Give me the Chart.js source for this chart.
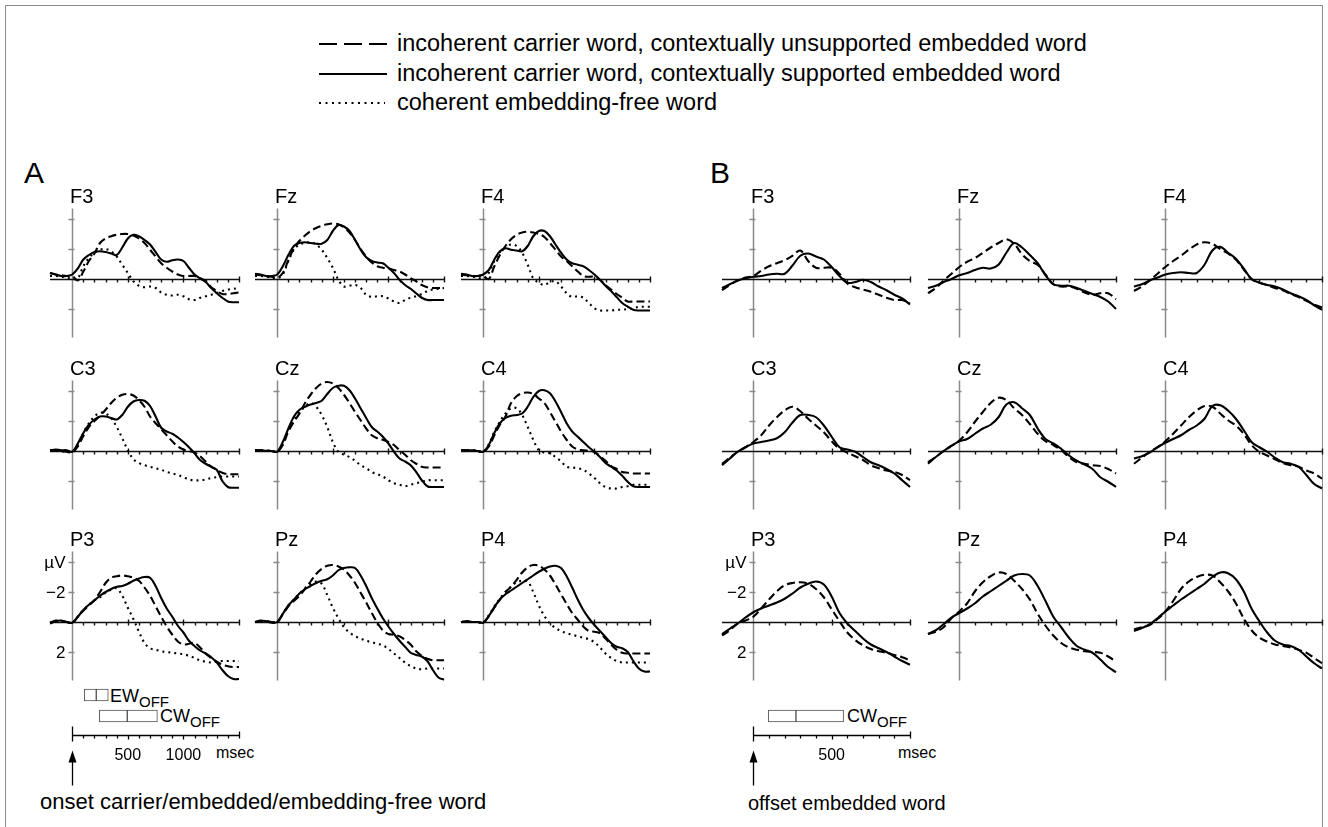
<!DOCTYPE html>
<html>
<head>
<meta charset="utf-8">
<script src="https://cdn.jsdelivr.net/npm/chart.js@4.4.1/dist/chart.umd.min.js"></script>
<style>
body { margin: 0; background: #fff; width: 1328px; height: 827px; overflow: hidden; position: relative;
  font-family: "Liberation Sans", Arial, sans-serif; color: #000; }
.frame { position: absolute; left: 5px; top: 5px; width: 1316px; height: 840px; border: 1px solid #8c8c8c; }
.t { position: absolute; white-space: nowrap; line-height: 1; }
.t sub { font-size: 15px; vertical-align: -5px; line-height: 0; }
canvas { position: absolute; }
</style>
</head>
<body>
<div class="frame"></div>

<svg style="position:absolute;left:0;top:0" width="420" height="120">
  <line x1="319" y1="44" x2="387" y2="44" stroke="#000" stroke-width="2" stroke-dasharray="18 7"/>
  <line x1="319" y1="74" x2="387" y2="74" stroke="#000" stroke-width="2"/>
  <line x1="319" y1="103" x2="385" y2="103" stroke="#000" stroke-width="2" stroke-dasharray="2 4.5"/>
</svg>
<div class="t" style="left:397px;top:32px;font-size:23.5px">incoherent carrier word, contextually unsupported embedded word</div>
<div class="t" style="left:397px;top:62px;font-size:23.5px">incoherent carrier word, contextually supported embedded word</div>
<div class="t" style="left:397px;top:91px;font-size:23.5px">coherent embedding-free word</div>

<div class="t" style="left:24px;top:158px;font-size:30px">A</div>
<div class="t" style="left:710px;top:158px;font-size:30px">B</div>

<div class="t" style="left:110px;top:687px;font-size:18px">EW<sub>OFF</sub></div>
<div class="t" style="left:160px;top:707px;font-size:18px">CW<sub>OFF</sub></div>
<div class="t" style="left:847px;top:707px;font-size:18px">CW<sub>OFF</sub></div>
<div class="t" style="left:216px;top:745px;font-size:16px">msec</div>
<div class="t" style="left:898px;top:745px;font-size:16px">msec</div>
<div class="t" style="left:40px;top:791px;font-size:22px">onset carrier/embedded/embedding-free word</div>
<div class="t" style="left:748px;top:793px;font-size:20px">offset embedded word</div>

<script>
// time points (ms)
const timesA = [-200,-150,-100,-50,0,50,100,150,200,250,300,350,400,450,500,550,600,650,700,750,800,850,900,950,1000,1050,1100,1150,1200,1250,1300,1350,1400,1450,1500];
const timesB = [-200,-150,-100,-50,0,50,100,150,200,250,300,350,400,450,500,550,600,650,700,750,800,850,900,950,1000];

const electrodes = [['F3', 'Fz', 'F4'], ['C3', 'Cz', 'C4'], ['P3', 'Pz', 'P4']];

// panel A: onset locked (µV, negative up)
const a_F3_sup   = [-0.4,-0.3,-0.2,-0.2,-0.3,-0.7,-1.3,-1.6,-1.8,-1.85,-1.8,-1.7,-1.6,-2.1,-2.7,-2.95,-2.85,-2.6,-2.3,-1.8,-1.3,-1.15,-1.25,-1.3,-1.2,-0.75,-0.3,-0.05,0.2,0.6,0.95,1.25,1.5,1.55,1.55];
const a_F3_unsup = [-0.4,-0.3,-0.25,-0.2,-0.2,0.1,-0.5,-1.2,-1.7,-2.4,-2.7,-2.85,-2.95,-3.0,-3.0,-2.9,-2.7,-2.4,-1.95,-1.5,-1.05,-0.75,-0.5,-0.3,-0.2,-0.2,-0.2,-0.05,0.15,0.55,0.8,1.0,1.0,0.95,0.9];
const a_F3_free  = [-0.2,-0.2,-0.15,-0.1,0,-0.05,-0.85,-1.4,-1.75,-1.95,-2.0,-1.85,-1.5,-0.95,-0.4,0.15,0.45,0.55,0.5,0.6,0.9,1.05,1.1,1.05,1.15,1.35,1.4,1.25,1.15,1.05,0.95,0.8,0.7,0.65,0.6];

const a_Fz_sup   = [-0.35,-0.3,-0.2,-0.2,-0.3,-0.85,-1.6,-2.2,-2.4,-2.45,-2.4,-2.35,-2.35,-2.6,-3.2,-3.6,-3.5,-3.2,-2.6,-1.95,-1.45,-1.2,-1.1,-1.05,-0.75,-0.4,0.05,0.4,0.65,0.95,1.25,1.4,1.4,1.4,1.4];
const a_Fz_unsup = [-0.3,-0.25,-0.2,-0.15,-0.1,-0.4,-1.25,-2.05,-2.55,-2.9,-3.2,-3.4,-3.55,-3.65,-3.7,-3.65,-3.45,-3.1,-2.6,-2.0,-1.5,-1.1,-0.85,-0.75,-0.7,-0.6,-0.5,-0.3,-0.05,0.15,0.4,0.55,0.6,0.6,0.6];
const a_Fz_free  = [-0.2,-0.2,-0.15,-0.1,-0.05,-0.3,-1.2,-1.95,-2.3,-2.4,-2.45,-2.3,-1.95,-1.4,-0.75,0.05,0.5,0.45,0.4,0.6,1.05,1.2,1.15,1.15,1.3,1.5,1.6,1.4,1.25,1.15,1.0,0.8,0.7,0.65,0.6];

const a_F4_sup   = [-0.35,-0.3,-0.2,-0.2,-0.3,-0.6,-1.3,-1.85,-2.05,-1.95,-1.9,-1.85,-2.2,-2.85,-3.2,-3.2,-2.85,-2.3,-1.75,-1.3,-1.05,-0.95,-0.85,-0.6,-0.3,0.05,0.45,0.8,1.2,1.6,1.85,2.05,2.1,2.1,2.1];
const a_F4_unsup = [-0.3,-0.25,-0.2,-0.2,-0.2,0,-0.85,-1.6,-2.2,-2.65,-2.95,-3.1,-3.15,-3.1,-3.0,-2.8,-2.4,-1.95,-1.5,-1.2,-0.85,-0.5,-0.2,-0.15,-0.15,0.05,0.4,0.7,1.0,1.25,1.5,1.5,1.5,1.5,1.5];
const a_F4_free  = [-0.2,-0.2,-0.15,-0.1,0,-0.4,-1.2,-1.8,-2.1,-2.3,-2.2,-1.75,-0.95,-0.05,0.25,0.4,0.2,0.15,0.5,0.95,1.2,1.15,1.25,1.6,1.95,2.1,2.1,2.1,2.05,2.05,2.0,1.95,1.85,1.85,1.85];

const a_C3_sup   = [-0.05,-0.1,-0.05,-0.05,0.05,-0.5,-1.2,-1.75,-2.1,-2.3,-2.3,-2.2,-2.1,-2.4,-2.95,-3.3,-3.4,-3.35,-3.0,-2.3,-1.55,-1.3,-1.15,-0.9,-0.6,-0.25,0.15,0.6,0.85,1.05,1.25,2.0,2.4,2.45,2.45];
const a_C3_unsup = [-0.05,-0.05,0,0.05,0.1,-0.3,-1.0,-1.6,-2.0,-2.35,-2.75,-3.2,-3.55,-3.75,-3.8,-3.7,-3.4,-2.95,-2.3,-1.85,-1.45,-1.05,-0.65,-0.3,-0.1,0,0.1,0.35,0.7,1.05,1.25,1.45,1.55,1.55,1.55];
const a_C3_free  = [-0.05,-0.05,0,0.05,0.05,-0.4,-1.2,-1.85,-2.3,-2.55,-2.5,-2.2,-1.6,-0.85,-0.05,0.55,0.8,0.95,1.05,1.15,1.25,1.4,1.5,1.6,1.75,1.9,1.95,1.95,1.9,1.8,1.75,1.7,1.7,1.7,1.7];

const a_Cz_sup   = [-0.05,-0.05,-0.02,0,0.05,-0.6,-1.5,-2.3,-2.75,-2.95,-3.1,-3.2,-3.35,-3.8,-4.2,-4.35,-4.35,-4.05,-3.5,-2.85,-2.2,-1.6,-1.3,-0.95,-0.5,0.05,0.5,0.7,0.95,1.4,1.95,2.35,2.4,2.4,2.4];
const a_Cz_unsup = [-0.05,-0.05,-0.02,0,0.05,-0.4,-1.3,-1.95,-2.5,-3.2,-3.75,-4.2,-4.5,-4.6,-4.5,-4.2,-3.75,-3.2,-2.6,-2.05,-1.5,-1.05,-0.85,-0.75,-0.6,-0.4,-0.05,0.25,0.6,0.85,1.05,1.1,1.1,1.1,1.1];
const a_Cz_free  = [-0.05,-0.05,-0.02,0,0.05,-0.5,-1.4,-2.05,-2.6,-2.95,-3.2,-2.95,-2.4,-1.6,-0.6,0.05,0.25,0.4,0.65,0.95,1.15,1.4,1.55,1.7,1.95,2.15,2.25,2.35,2.25,2.15,2.05,1.95,1.95,1.95,1.95];

const a_C4_sup   = [-0.05,-0.05,-0.05,0,0.05,-0.4,-1.2,-1.85,-2.2,-2.35,-2.4,-2.5,-2.95,-3.6,-4.0,-4.05,-3.85,-3.3,-2.6,-1.85,-1.3,-0.95,-0.6,-0.25,0.05,0.4,0.8,1.05,1.3,1.65,2.05,2.35,2.4,2.4,2.4];
const a_C4_unsup = [-0.05,-0.05,-0.05,0,0.05,-0.3,-1.05,-1.75,-2.3,-3.2,-3.65,-3.85,-3.9,-3.8,-3.5,-3.2,-2.6,-1.95,-1.3,-0.75,-0.3,-0.1,-0.05,0,0.05,0.35,0.65,1.0,1.2,1.4,1.45,1.5,1.5,1.5,1.5];
const a_C4_free  = [-0.05,-0.05,-0.05,0,0.05,-0.45,-1.3,-1.95,-2.5,-2.85,-2.85,-2.4,-1.6,-0.75,-0.05,0.1,0.15,0.4,0.7,1.05,1.1,1.15,1.25,1.5,1.8,2.15,2.4,2.5,2.5,2.4,2.35,2.25,2.25,2.25,2.25];

const a_P3_sup   = [0.1,-0.05,-0.1,0,0.05,-0.35,-0.8,-1.15,-1.45,-1.75,-2.0,-2.2,-2.35,-2.4,-2.55,-2.75,-2.9,-3.0,-2.95,-2.4,-1.6,-0.9,-0.35,0.25,0.7,1.25,1.6,1.9,2.1,2.35,2.7,3.2,3.6,3.8,3.8];
const a_P3_unsup = [0.05,-0.1,-0.05,0,0.05,-0.35,-0.75,-1.1,-1.45,-2.0,-2.6,-2.95,-3.05,-3.1,-3.05,-2.95,-2.75,-2.3,-1.75,-1.05,-0.35,0.3,0.85,1.3,1.5,1.45,1.4,1.7,2.1,2.4,2.65,2.85,2.95,3.0,3.0];
const a_P3_free  = [0.05,-0.05,-0.05,0,0.05,-0.35,-0.8,-1.15,-1.45,-1.65,-1.95,-2.15,-2.25,-1.75,-0.95,-0.2,0.65,1.4,1.75,1.85,1.95,2.0,2.05,2.1,2.15,2.25,2.4,2.55,2.65,2.7,2.65,2.6,2.6,2.6,2.6];

const a_Pz_sup   = [0,-0.1,-0.05,0.05,0,-0.55,-1.1,-1.5,-1.9,-2.2,-2.4,-2.6,-2.75,-2.85,-3.1,-3.45,-3.6,-3.65,-3.6,-3.1,-2.4,-1.6,-0.9,-0.25,0.3,0.8,1.25,1.65,2.05,2.2,2.3,2.6,3.2,3.7,3.85];
const a_Pz_unsup = [0,-0.05,-0.05,0,0,-0.5,-1.05,-1.4,-1.75,-2.2,-2.7,-3.2,-3.55,-3.75,-3.8,-3.7,-3.5,-3.1,-2.6,-1.95,-1.3,-0.6,0.05,0.55,0.8,0.85,0.95,1.2,1.5,1.95,2.25,2.45,2.55,2.55,2.55];
const a_Pz_free  = [0,-0.05,-0.05,0,0,-0.55,-1.1,-1.5,-1.9,-2.25,-2.5,-2.7,-2.55,-1.8,-0.95,-0.25,0.35,0.7,0.95,1.1,1.25,1.35,1.45,1.55,1.8,2.1,2.4,2.7,2.95,3.1,3.15,3.1,3.1,3.1,3.1];

const a_P4_sup   = [0,-0.05,0,0,0.05,-0.4,-1.0,-1.5,-1.85,-2.1,-2.35,-2.6,-2.85,-3.1,-3.35,-3.55,-3.7,-3.75,-3.6,-3.05,-2.3,-1.5,-0.8,-0.25,0.2,0.6,1.0,1.4,1.65,1.75,2.0,2.6,3.1,3.3,3.3];
const a_P4_unsup = [0,-0.05,0,0,0.05,-0.4,-0.95,-1.5,-2.0,-2.35,-2.8,-3.3,-3.65,-3.8,-3.75,-3.5,-3.1,-2.5,-1.85,-1.2,-0.6,-0.15,0.3,0.6,0.65,0.75,1.1,1.5,1.85,2.05,2.1,2.1,2.1,2.1,2.1];
const a_P4_free  = [0,-0.05,0,0,0.05,-0.45,-1.05,-1.55,-2.0,-2.35,-2.65,-2.75,-2.7,-2.0,-1.1,-0.4,0.1,0.4,0.6,0.75,0.85,0.95,1.05,1.15,1.35,1.7,2.1,2.4,2.6,2.7,2.7,2.7,2.7,2.7,2.7];

// panel B: offset locked
const b_F3_sup   = [0.6,0.35,0.1,-0.05,-0.15,-0.2,-0.3,-0.35,-0.35,-0.9,-1.55,-1.7,-1.5,-1.3,-0.8,-0.2,0.25,0.2,0.05,0.2,0.5,0.75,1.05,1.3,1.7];
const b_F3_unsup = [0.75,0.4,0.1,-0.1,-0.2,-0.55,-0.85,-1.05,-1.25,-1.55,-1.9,-1.2,-0.75,-0.75,-0.75,-0.35,0.3,0.55,0.7,0.85,1.05,1.25,1.4,1.4,1.6];
const b_Fz_sup   = [0.6,0.45,0.2,0,-0.25,-0.4,-0.6,-0.75,-0.7,-0.95,-1.75,-2.4,-2.1,-1.6,-1.05,-0.25,0.35,0.45,0.45,0.6,0.8,1.0,1.2,1.5,2.0];
const b_Fz_unsup = [0.95,0.6,0.1,-0.35,-0.8,-1.15,-1.4,-1.75,-2.1,-2.4,-2.65,-2.35,-1.65,-1.2,-0.95,-0.3,0.35,0.5,0.5,0.65,0.9,1.05,0.95,0.95,1.35];
const b_F4_sup   = [0.5,0.35,0.1,-0.1,-0.3,-0.4,-0.45,-0.4,-0.4,-0.95,-1.9,-2.15,-1.75,-1.35,-0.7,0,0.25,0.4,0.5,0.7,0.95,1.15,1.4,1.75,2.05];
const b_F4_unsup = [0.8,0.5,0.1,-0.35,-0.8,-1.2,-1.55,-1.95,-2.3,-2.45,-2.35,-2.0,-1.7,-1.3,-0.65,0,0.25,0.4,0.6,0.75,1.0,1.2,1.45,1.7,1.9];
const b_C3_sup   = [0.95,0.5,0.05,-0.25,-0.5,-0.6,-0.7,-0.85,-1.25,-1.9,-2.4,-2.4,-2.25,-1.7,-0.95,-0.25,-0.1,0.05,0.4,0.75,0.95,1.2,1.5,1.95,2.4];
const b_C3_unsup = [0.85,0.45,0.05,-0.25,-0.6,-1.05,-1.7,-2.25,-2.7,-2.95,-2.65,-2.15,-1.7,-1.25,-0.65,-0.15,0.1,0.35,0.6,0.95,1.15,1.3,1.4,1.6,1.95];
const b_Cz_sup   = [0.85,0.4,0,-0.35,-0.65,-0.8,-1.15,-1.5,-1.75,-2.25,-3.1,-3.25,-2.85,-2.4,-1.5,-0.8,-0.5,-0.15,0.3,0.65,0.9,1.2,1.75,2.05,2.4];
const b_Cz_unsup = [0.75,0.4,0,-0.35,-0.7,-1.25,-1.95,-2.6,-3.2,-3.55,-3.4,-2.85,-2.4,-1.8,-1.15,-0.65,-0.4,-0.05,0.4,0.75,0.85,0.95,1.0,1.2,1.5];
const b_C4_sup   = [0.5,0.35,0.1,-0.25,-0.55,-0.8,-1.05,-1.4,-1.7,-2.15,-3.0,-3.05,-2.7,-2.15,-1.4,-0.6,-0.25,0.05,0.45,0.75,0.85,1.05,1.6,2.2,2.5];
const b_C4_unsup = [0.85,0.45,0.05,-0.25,-0.65,-1.15,-1.7,-2.25,-2.7,-3.0,-2.95,-2.5,-2.05,-1.7,-1.15,-0.4,0.05,0.3,0.55,0.8,0.95,1.05,1.3,1.5,1.85];
const b_P3_sup   = [0.8,0.45,0.1,-0.3,-0.65,-0.9,-1.1,-1.3,-1.55,-1.9,-2.3,-2.55,-2.7,-2.5,-1.7,-0.6,0.1,0.6,1.1,1.5,1.75,2.0,2.3,2.6,2.85];
const b_P3_unsup = [0.9,0.55,0.1,-0.1,-0.35,-0.9,-1.5,-2.05,-2.45,-2.6,-2.65,-2.55,-2.2,-1.65,-0.85,-0.05,0.7,1.2,1.55,1.8,1.95,2.05,2.2,2.35,2.55];
const b_Pz_sup   = [0.8,0.55,0.15,-0.3,-0.6,-0.9,-1.25,-1.7,-2.05,-2.4,-2.75,-3.1,-3.2,-3.1,-2.4,-1.4,-0.35,0.35,1.05,1.6,1.85,2.05,2.5,3.0,3.35];
const b_Pz_unsup = [0.8,0.65,0.35,-0.25,-0.7,-1.25,-2.05,-2.65,-3.05,-3.3,-3.2,-2.75,-2.2,-1.5,-0.55,0.25,0.9,1.4,1.7,1.85,1.95,2.0,2.05,2.3,2.65];
const b_P4_sup   = [0.6,0.4,0.15,-0.25,-0.7,-1.1,-1.5,-1.85,-2.2,-2.55,-3.0,-3.3,-3.25,-2.85,-2.05,-0.9,-0.05,0.7,1.25,1.5,1.6,1.85,2.3,2.75,3.1];
const b_P4_unsup = [0.5,0.35,0.2,-0.2,-0.7,-1.4,-2.2,-2.7,-3.0,-3.15,-3.1,-2.65,-2.05,-1.25,-0.25,0.55,1.05,1.3,1.5,1.6,1.7,1.85,2.05,2.4,2.75];

// offset distributions (min, median, max in ms)
const ewOffA = [108, 216, 324];
const cwOffA = [243, 495, 766];
const cwOffB = [95, 272, 576];

const yTickValues = [-4, -2, 2];
const yTickLabels = ['µV', '\u22122', '2'];
const rulerLabelsA = [500, 1000];
const rulerLabelsB = [500];

const seriesA = {
  F3: [a_F3_sup, a_F3_unsup, a_F3_free], Fz: [a_Fz_sup, a_Fz_unsup, a_Fz_free], F4: [a_F4_sup, a_F4_unsup, a_F4_free],
  C3: [a_C3_sup, a_C3_unsup, a_C3_free], Cz: [a_Cz_sup, a_Cz_unsup, a_Cz_free], C4: [a_C4_sup, a_C4_unsup, a_C4_free],
  P3: [a_P3_sup, a_P3_unsup, a_P3_free], Pz: [a_Pz_sup, a_Pz_unsup, a_Pz_free], P4: [a_P4_sup, a_P4_unsup, a_P4_free]
};
const seriesB = {
  F3: [b_F3_sup, b_F3_unsup], Fz: [b_Fz_sup, b_Fz_unsup], F4: [b_F4_sup, b_F4_unsup],
  C3: [b_C3_sup, b_C3_unsup], Cz: [b_Cz_sup, b_Cz_unsup], C4: [b_C4_sup, b_C4_unsup],
  P3: [b_P3_sup, b_P3_unsup], Pz: [b_Pz_sup, b_Pz_unsup], P4: [b_P4_sup, b_P4_unsup]
};

const lineStyles = [
  { dash: [], width: 2.1 },          // supported: solid
  { dash: [8, 4], width: 2.1 },      // unsupported: dashed
  { dash: [2, 4], width: 2.1 }       // embedding-free: dotted
];

const colsA = [50, 255, 461];
const colsB = [722, 928, 1134];
const rowZero = [279, 451, 622];
const PAD_L = 40, PAD_R = 8;
const FONT = '"Liberation Sans", Arial, sans-serif';

// draws the zero line, the y axis at t=0 and their ticks
const erpAxes = {
  id: 'erpAxes',
  beforeDatasetsDraw(chart, args, o) {
    const { ctx } = chart;
    const x = chart.scales.x, y = chart.scales.y;
    const x0 = Math.round(x.getPixelForValue(0)) + 0.5;
    const y0 = Math.round(y.getPixelForValue(0)) + 0.5;
    ctx.save();
    ctx.strokeStyle = '#8a8a8a';
    ctx.lineWidth = 1.5;
    ctx.beginPath();
    ctx.moveTo(x0, y.getPixelForValue(-4.7));
    ctx.lineTo(x0, y.getPixelForValue(3.9));
    yTickValues.forEach(v => {
      const py = Math.round(y.getPixelForValue(v)) + 0.5;
      ctx.moveTo(x0 - 4, py);
      ctx.lineTo(x0 + 2, py);
    });
    ctx.stroke();

    ctx.strokeStyle = '#111';
    ctx.lineWidth = 1.4;
    ctx.beginPath();
    ctx.moveTo(x.left, y0);
    ctx.lineTo(x.right, y0);
    for (let t = 100; t <= o.tMax; t += 100) {
      const px = Math.round(x.getPixelForValue(t)) + 0.5;
      const big = t % 500 === 0;
      ctx.moveTo(px, y0 - (big ? 3 : 0));
      ctx.lineTo(px, y0 + 3);
    }
    ctx.stroke();

    if (o.labels) {
      ctx.fillStyle = '#000';
      ctx.font = '17px ' + FONT;
      ctx.textAlign = 'right';
      ctx.textBaseline = 'middle';
      yTickValues.forEach((v, i) => ctx.fillText(yTickLabels[i], x0 - 7, y.getPixelForValue(v) + 1));
    }
    ctx.restore();
  }
};

function addLabel(text, left, top, size) {
  const d = document.createElement('div');
  d.className = 't';
  d.style.left = left + 'px';
  d.style.top = top + 'px';
  d.style.fontSize = size + 'px';
  d.textContent = text;
  document.body.appendChild(d);
}

function makePanel(left, zeroY, width, tMax, times, series, showLabels) {
  const canvas = document.createElement('canvas');
  canvas.width = PAD_L + width + PAD_R;
  canvas.height = 160;
  canvas.style.left = (left - PAD_L) + 'px';
  canvas.style.top = (zeroY - 85) + 'px';
  document.body.appendChild(canvas);

  const datasets = series.map((vals, i) => ({
    data: times.map((t, k) => ({ x: t, y: vals[k] })),
    borderColor: '#000',
    borderWidth: lineStyles[i].width,
    borderDash: lineStyles[i].dash,
    pointRadius: 0,
    tension: 0.35,
    fill: false
  }));

  new Chart(canvas, {
    type: 'line',
    data: { datasets },
    plugins: [erpAxes],
    options: {
      responsive: false,
      animation: false,
      events: [],
      clip: false,
      layout: { padding: { left: PAD_L, right: PAD_R, top: 5, bottom: 5 } },
      scales: {
        x: { type: 'linear', min: -200, max: tMax, display: false },
        y: { type: 'linear', min: -16 / 3, max: 14 / 3, reverse: true, display: false }
      },
      plugins: { legend: { display: false }, tooltip: { enabled: false }, erpAxes: { tMax, labels: showLabels } }
    }
  });
}

// time ruler, offset boxes and onset arrow below each column block
const rulerPlugin = {
  id: 'ruler',
  afterDatasetsDraw(chart, args, o) {
    const { ctx } = chart;
    const x = chart.scales.x;
    const x0 = Math.round(x.getPixelForValue(0)) + 0.5;
    const x1 = Math.round(x.getPixelForValue(o.tMax)) + 0.5;
    const ly = 65.5;
    ctx.save();
    ctx.strokeStyle = '#000';
    ctx.fillStyle = '#000';
    ctx.lineWidth = 1.3;
    ctx.beginPath();
    ctx.moveTo(x0, ly); ctx.lineTo(x1, ly);
    ctx.moveTo(x0, ly - 9); ctx.lineTo(x0, ly + 6);
    ctx.moveTo(x1, ly - 4); ctx.lineTo(x1, ly + 3);
    for (let t = 100; t < o.tMax; t += 100) {
      const p = Math.round(x.getPixelForValue(t)) + 0.5;
      ctx.moveTo(p, ly); ctx.lineTo(p, ly + (t % 500 === 0 ? 4 : 3));
    }
    ctx.stroke();
    ctx.font = '16px ' + FONT;
    ctx.textAlign = 'center';
    ctx.textBaseline = 'alphabetic';
    o.labels.forEach(t => ctx.fillText(String(t), x.getPixelForValue(t), ly + 24));
    ctx.beginPath();
    ctx.moveTo(x0, ly + 50); ctx.lineTo(x0, ly + 24);
    ctx.stroke();
    ctx.beginPath();
    ctx.moveTo(x0, ly + 15); ctx.lineTo(x0 - 4, ly + 27); ctx.lineTo(x0 + 4, ly + 27);
    ctx.closePath(); ctx.fill();
    ctx.restore();
  }
};

function makeRuler(left, width, tMax, ew, cw, labels) {
  const canvas = document.createElement('canvas');
  canvas.width = PAD_L + width + 80;
  canvas.height = 125;
  canvas.style.left = (left - PAD_L) + 'px';
  canvas.style.top = '670px';
  document.body.appendChild(canvas);
  const boxStyle = {
    backgroundColor: '#fff', borderColor: '#555', borderWidth: 1, borderSkipped: false,
    barThickness: 12, grouped: false
  };
  new Chart(canvas, {
    type: 'bar',
    data: {
      labels: ['EW', 'CW'],
      datasets: [
        Object.assign({ data: [ew ? [ew[0], ew[1]] : null, [cw[0], cw[1]]] }, boxStyle),
        Object.assign({ data: [ew ? [ew[1], ew[2]] : null, [cw[1], cw[2]]] }, boxStyle)
      ]
    },
    plugins: [rulerPlugin],
    options: {
      indexAxis: 'y',
      responsive: false,
      animation: false,
      events: [],
      layout: { padding: { left: PAD_L, right: 80, top: 14.5, bottom: 125 - 56.5 } },
      scales: {
        x: { type: 'linear', min: -200, max: tMax, display: false },
        y: { type: 'category', display: false }
      },
      plugins: { legend: { display: false }, tooltip: { enabled: false }, ruler: { tMax, labels } }
    }
  });
}

electrodes.forEach((row, r) => {
  row.forEach((name, c) => {
    makePanel(colsA[c], rowZero[r], 189, 1500, timesA, seriesA[name], name === 'P3');
    addLabel(name, colsA[c] + 20, rowZero[r] - 93, 20);
    makePanel(colsB[c], rowZero[r], 188, 1000, timesB, seriesB[name], name === 'P3');
    addLabel(name, colsB[c] + 29, rowZero[r] - 93, 20);
  });
});

makeRuler(colsA[0], 189, 1500, ewOffA, cwOffA, rulerLabelsA);
makeRuler(colsB[0], 188, 1000, null, cwOffB, rulerLabelsB);
</script>
</body>
</html>
